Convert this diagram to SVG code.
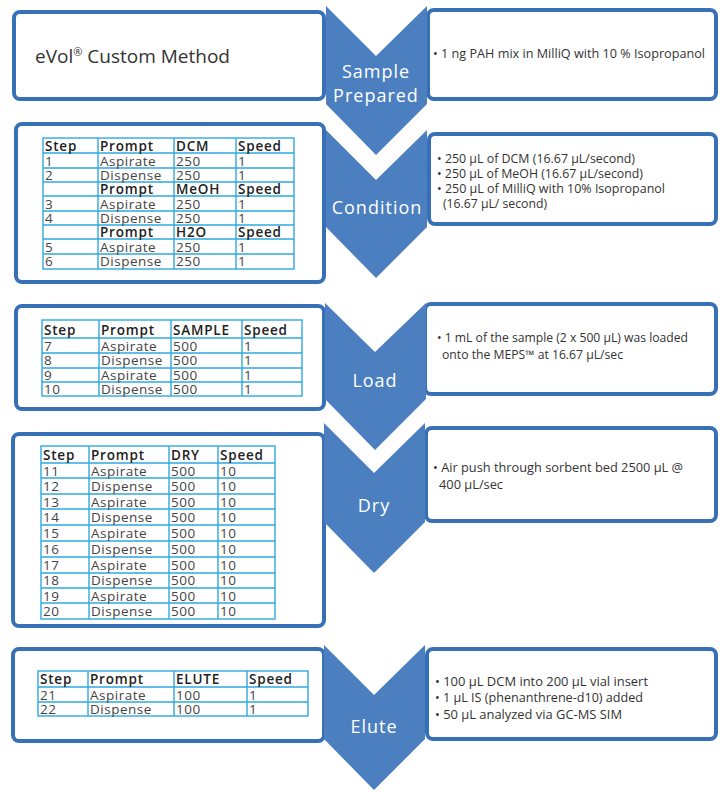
<svg xmlns="http://www.w3.org/2000/svg" width="725" height="792" viewBox="0 0 725 792">
<style>
.box{fill:#fff;stroke:#3870b8;stroke-width:4}
.chev{fill:#4c7fbf}
.lbl{font-family:"Open Sans","Noto Sans",sans-serif;font-size:18px;fill:#fff;text-anchor:middle;letter-spacing:1px}
.note{font-family:"Open Sans","Noto Sans",sans-serif;font-size:12px;fill:#333}
.grid{fill:none;stroke:#2fa9e1;stroke-width:1.4}
.td{font-family:"Open Sans","Noto Sans",sans-serif;font-size:13.5px;fill:#444;letter-spacing:0.5px}
.th{font-family:"Open Sans","Noto Sans",sans-serif;font-size:13.5px;fill:#222;font-weight:600;letter-spacing:0.8px}
.title{font-family:"Open Sans","Noto Sans",sans-serif;font-size:19px;fill:#333}
</style>
<rect width="725" height="792" fill="#fff"/>

<g id="step1-left"><rect class="box" x="14" y="12" width="310" height="87" rx="6"/>
<text class="title" x="35" y="63">eVol<tspan font-size="11" dy="-7">®</tspan><tspan dy="7"> Custom Method</tspan></text></g>
<g id="step1-right"><rect class="box" x="428" y="10" width="288" height="89" rx="6"/>
<text class="note" x="433" y="58" textLength="272" lengthAdjust="spacingAndGlyphs">• 1 ng PAH mix in MilliQ with 10 % Isopropanol</text></g>

<g id="step2-left"><rect class="box" x="16" y="124" width="308" height="158" rx="6"/>
<g id="table-condition">
<rect class="grid" x="43" y="138" width="251" height="131"/>
<path class="grid" d="M98,138V269M174,138V269M236,138V269M43,153H294M43,168H294M43,182H294M43,196H294M43,211H294M43,225H294M43,239H294M43,254H294"/>
<text class="th" y="151"><tspan x="45">Step</tspan><tspan x="100">Prompt</tspan><tspan x="176">DCM</tspan><tspan x="238">Speed</tspan></text>
<text class="td" y="166"><tspan x="45">1</tspan><tspan x="100">Aspirate</tspan><tspan x="176">250</tspan><tspan x="238">1</tspan></text>
<text class="td" y="180"><tspan x="45">2</tspan><tspan x="100">Dispense</tspan><tspan x="176">250</tspan><tspan x="238">1</tspan></text>
<text class="th" y="194"><tspan x="100">Prompt</tspan><tspan x="176">MeOH</tspan><tspan x="238">Speed</tspan></text>
<text class="td" y="209"><tspan x="45">3</tspan><tspan x="100">Aspirate</tspan><tspan x="176">250</tspan><tspan x="238">1</tspan></text>
<text class="td" y="223"><tspan x="45">4</tspan><tspan x="100">Dispense</tspan><tspan x="176">250</tspan><tspan x="238">1</tspan></text>
<text class="th" y="237"><tspan x="100">Prompt</tspan><tspan x="176">H2O</tspan><tspan x="238">Speed</tspan></text>
<text class="td" y="252"><tspan x="45">5</tspan><tspan x="100">Aspirate</tspan><tspan x="176">250</tspan><tspan x="238">1</tspan></text>
<text class="td" y="266"><tspan x="45">6</tspan><tspan x="100">Dispense</tspan><tspan x="176">250</tspan><tspan x="238">1</tspan></text>
</g></g>
<g id="step2-right"><rect class="box" x="429" y="134" width="287" height="90" rx="6"/>
<text class="note" x="437" y="163" textLength="198" lengthAdjust="spacingAndGlyphs">• 250 µL of DCM (16.67 µL/second)</text>
<text class="note" x="437" y="178" textLength="206" lengthAdjust="spacingAndGlyphs">• 250 µL of MeOH (16.67 µL/second)</text>
<text class="note" x="437" y="193" textLength="228" lengthAdjust="spacingAndGlyphs">• 250 µL of MilliQ with 10% Isopropanol</text>
<text class="note" x="443" y="208" textLength="104" lengthAdjust="spacingAndGlyphs">(16.67 µL/ second)</text></g>

<g id="step3-left"><rect class="box" x="16" y="306" width="308" height="103" rx="6"/>
<g id="table-load">
<rect class="grid" x="42" y="320" width="260" height="76"/>
<path class="grid" d="M99,320V396M171,320V396M242,320V396M42,338H302M42,353H302M42,368H302M42,382H302"/>
<text class="th" y="335"><tspan x="44">Step</tspan><tspan x="101">Prompt</tspan><tspan x="173">SAMPLE</tspan><tspan x="244">Speed</tspan></text>
<text class="td" y="351"><tspan x="44">7</tspan><tspan x="101">Aspirate</tspan><tspan x="173">500</tspan><tspan x="244">1</tspan></text>
<text class="td" y="365"><tspan x="44">8</tspan><tspan x="101">Dispense</tspan><tspan x="173">500</tspan><tspan x="244">1</tspan></text>
<text class="td" y="380"><tspan x="44">9</tspan><tspan x="101">Aspirate</tspan><tspan x="173">500</tspan><tspan x="244">1</tspan></text>
<text class="td" y="394"><tspan x="44">10</tspan><tspan x="101">Dispense</tspan><tspan x="173">500</tspan><tspan x="244">1</tspan></text>
</g></g>
<g id="step3-right"><rect class="box" x="425" y="304" width="291" height="90" rx="6"/>
<text class="note" x="437" y="342" textLength="251" lengthAdjust="spacingAndGlyphs">• 1 mL of the sample (2 x 500 µL) was loaded</text>
<text class="note" x="442" y="359" textLength="181" lengthAdjust="spacingAndGlyphs">onto the MEPS™ at 16.67 µL/sec</text></g>

<g id="step4-left"><rect class="box" x="13" y="434" width="311" height="192" rx="6"/>
<g id="table-dry">
<rect class="grid" x="41" y="446" width="234" height="173"/>
<path class="grid" d="M89,446V619M169,446V619M218,446V619M41,463H275M41,478H275M41,494H275M41,509H275M41,525H275M41,541H275M41,557H275M41,573H275M41,588H275M41,603H275"/>
<text class="th" y="460"><tspan x="43">Step</tspan><tspan x="91">Prompt</tspan><tspan x="171">DRY</tspan><tspan x="220">Speed</tspan></text>
<text class="td" y="476"><tspan x="43">11</tspan><tspan x="91">Aspirate</tspan><tspan x="171">500</tspan><tspan x="220">10</tspan></text>
<text class="td" y="491"><tspan x="43">12</tspan><tspan x="91">Dispense</tspan><tspan x="171">500</tspan><tspan x="220">10</tspan></text>
<text class="td" y="507"><tspan x="43">13</tspan><tspan x="91">Aspirate</tspan><tspan x="171">500</tspan><tspan x="220">10</tspan></text>
<text class="td" y="522"><tspan x="43">14</tspan><tspan x="91">Dispense</tspan><tspan x="171">500</tspan><tspan x="220">10</tspan></text>
<text class="td" y="538"><tspan x="43">15</tspan><tspan x="91">Aspirate</tspan><tspan x="171">500</tspan><tspan x="220">10</tspan></text>
<text class="td" y="554"><tspan x="43">16</tspan><tspan x="91">Dispense</tspan><tspan x="171">500</tspan><tspan x="220">10</tspan></text>
<text class="td" y="570"><tspan x="43">17</tspan><tspan x="91">Aspirate</tspan><tspan x="171">500</tspan><tspan x="220">10</tspan></text>
<text class="td" y="585"><tspan x="43">18</tspan><tspan x="91">Dispense</tspan><tspan x="171">500</tspan><tspan x="220">10</tspan></text>
<text class="td" y="601"><tspan x="43">19</tspan><tspan x="91">Aspirate</tspan><tspan x="171">500</tspan><tspan x="220">10</tspan></text>
<text class="td" y="616"><tspan x="43">20</tspan><tspan x="91">Dispense</tspan><tspan x="171">500</tspan><tspan x="220">10</tspan></text>
</g></g>
<g id="step4-right"><rect class="box" x="426" y="428" width="290" height="93" rx="6"/>
<text class="note" x="433" y="472" textLength="250" lengthAdjust="spacingAndGlyphs">• Air push through sorbent bed 2500 µL @</text>
<text class="note" x="439" y="489" textLength="64" lengthAdjust="spacingAndGlyphs">400 µL/sec</text></g>

<g id="step5-left"><rect class="box" x="13" y="649" width="311" height="92" rx="6"/>
<g id="table-elute">
<rect class="grid" x="38" y="671" width="270" height="45"/>
<path class="grid" d="M88,671V716M174,671V716M247,671V716M38,687H308M38,702H308"/>
<text class="th" y="684"><tspan x="40">Step</tspan><tspan x="90">Prompt</tspan><tspan x="176">ELUTE</tspan><tspan x="249">Speed</tspan></text>
<text class="td" y="700"><tspan x="40">21</tspan><tspan x="90">Aspirate</tspan><tspan x="176">100</tspan><tspan x="249">1</tspan></text>
<text class="td" y="714"><tspan x="40">22</tspan><tspan x="90">Dispense</tspan><tspan x="176">100</tspan><tspan x="249">1</tspan></text>
</g></g>
<g id="step5-right"><rect class="box" x="427" y="649" width="289" height="90" rx="6"/>
<text class="note" x="435" y="686" textLength="213" lengthAdjust="spacingAndGlyphs">• 100 µL DCM into 200 µL vial insert</text>
<text class="note" x="435" y="702" textLength="208" lengthAdjust="spacingAndGlyphs">• 1 µL IS (phenanthrene-d10) added</text>
<text class="note" x="435" y="719" textLength="187" lengthAdjust="spacingAndGlyphs">• 50 µL analyzed via GC-MS SIM</text></g>

<g id="connectors">
<g id="chev1"><path class="chev" d="M326,6L376,56L427,6V104L376,155L326,104Z"/>
<text class="lbl" x="376" y="78">Sample</text><text class="lbl" x="376" y="102">Prepared</text></g>
<g id="chev2"><path class="chev" d="M326,130L376,180L427,130V227L376,278L326,227Z"/>
<text class="lbl" x="377" y="214">Condition</text></g>
<g id="chev3"><path class="chev" d="M325,303L375,352L426,303V399L375,450L325,399Z"/>
<text class="lbl" x="375" y="387">Load</text></g>
<g id="chev4"><path class="chev" d="M324,423L374,473L425,423V522L374,573L324,522Z"/>
<text class="lbl" x="374" y="512">Dry</text></g>
<g id="chev5"><path class="chev" d="M324,645L374,695L425,645V739L374,790L324,739Z"/>
<text class="lbl" x="374" y="733">Elute</text></g>
</g>
</svg>
